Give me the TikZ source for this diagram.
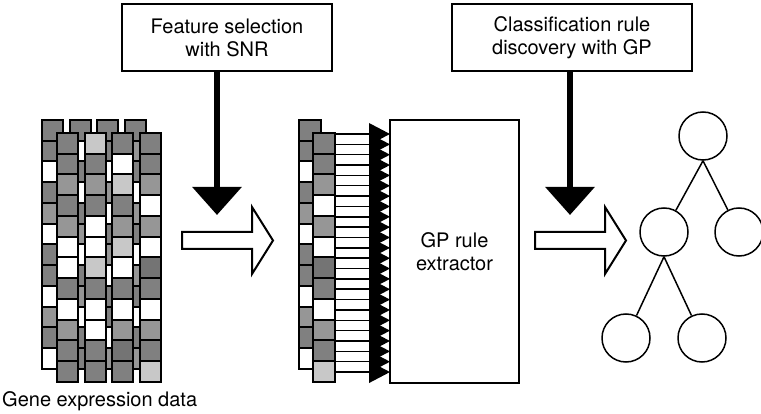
\documentclass[tikz,border=0pt]{standalone}
\usepackage{fontspec}
\setmainfont{TeX Gyre Heros}
\usetikzlibrary{arrows.meta}
\definecolor{cD}{HTML}{808080}
\definecolor{cM}{HTML}{969696}
\definecolor{cL}{HTML}{C8C8C8}
\definecolor{cK}{HTML}{747474}
\definecolor{cW}{HTML}{FFFFFF}
\begin{document}
\begin{tikzpicture}[x=1pt,y=-1pt,
  txt/.style={font=\fontsize{20}{23}\selectfont},
  labelbox/.style={draw,line width=1.5pt,align=center,inner sep=0pt,txt},
  cellbox/.style={draw,line width=2pt},
  bigarrow/.style={line width=6.5pt,-{Triangle[width=48pt,length=28pt]}},
  hollow/.style={draw,line width=2pt,fill=white,line join=miter},
  treenode/.style={circle,draw,line width=1.5pt,minimum size=48pt,inner sep=0pt},
  treeedge/.style={line width=1.5pt},
  comb/.style={line width=1.5pt}
]
\useasboundingbox (0,0) rectangle (761,414);
\clip (0,0) rectangle (761,414);

% ---------- gene expression data: back layer ----------
\foreach \row [count=\i from 0] in {{D,D,D,D},{D,W,D,M},{W,D,W,D},{D,W,M,W},{M,D,W,M},{W,M,D,D},{D,W,M,W},{D,D,W,M},{W,M,D,D},{M,W,D,W},{D,D,W,D},{W,D,M,M}}{
  \foreach \c [count=\j from 0] in \row {
    \filldraw[cellbox,fill=c\c] (42+27.7*\j,120+20.75*\i) rectangle ++(21,20.75);
  }
}
% ---------- gene expression data: front layer ----------
\foreach \row [count=\i from 0] in {{D,L,D,D},{D,D,W,D},{M,M,L,M},{D,D,D,W},{M,W,M,M},{W,W,L,W},{W,L,W,K},{D,D,D,D},{W,W,W,W},{M,W,M,M},{D,D,K,D},{D,D,D,L}}{
  \foreach \c [count=\j from 0] in \row {
    \filldraw[cellbox,fill=c\c] (57+27.7*\j,133+20.75*\i) rectangle ++(21,20.75);
  }
}
\node[txt,anchor=base west,inner sep=0pt] (genelabel) at (2,406) {Gene expression data};

% ---------- selected features ----------
\foreach \c [count=\i from 0] in {D,D,W,D,M,W,D,D,W,M,D,W}{
  \filldraw[cellbox,fill=c\c] (299,120+20.75*\i) rectangle ++(22,20.75);
}
\foreach \c [count=\i from 0] in {D,D,M,W,M,W,K,D,W,M,D,L}{
  \filldraw[cellbox,fill=c\c] (313,133+20.75*\i) rectangle ++(22,20.75);
}
\foreach \k in {0,...,23}{
  \draw[comb] (336,134+10.35*\k) -- (369,134+10.35*\k);
  \fill (369,123+10.35*\k) -- (390,134+10.35*\k) -- (369,145+10.35*\k) -- cycle;
}

% ---------- boxes ----------
\node[labelbox,minimum width=210pt,minimum height=67pt] (fs) at (227,37.5) {Feature selection\\with SNR};
\node[labelbox,minimum width=240pt,minimum height=67pt] (cr) at (572,37.5) {Classification rule\\discovery with GP};
\node[labelbox,minimum width=129pt,minimum height=263pt] (gp) at (454.5,251.5) {GP rule\\extractor};

% ---------- black arrows ----------
\coordinate (tip1) at (217,215);
\coordinate (tip2) at (570,215);
\draw[bigarrow] (fs.south -| tip1) -- (tip1);
\draw[bigarrow] (cr.south -| tip2) -- (tip2);

% ---------- hollow arrows ----------
\coordinate (h1) at (182,240.5);
\coordinate (h2) at (535,240.5);
\path[hollow] (h1) ++(0,-8.5) -- ++(70,0) -- ++(0,-25) -- ++(21,33.5) -- ++(-21,33.5) -- ++(0,-25) -- ++(-70,0) -- cycle;
\path[hollow] (h2) ++(0,-8.5) -- ++(70,0) -- ++(0,-25) -- ++(21,33.5) -- ++(-21,33.5) -- ++(0,-25) -- ++(-70,0) -- cycle;

% ---------- tree ----------
\node[treenode] (root) at (703,136) {};
\node[treenode] (ml) at (664,232) {};
\node[treenode] (mr) at (739,232) {};
\node[treenode] (bl) at (626,338) {};
\node[treenode] (br) at (702,338) {};
\draw[treeedge] (root.south) -- (ml);
\draw[treeedge] (root.south) -- (mr);
\draw[treeedge] (ml.south) -- (bl);
\draw[treeedge] (ml.south) -- (br);
\end{tikzpicture}
\end{document}
